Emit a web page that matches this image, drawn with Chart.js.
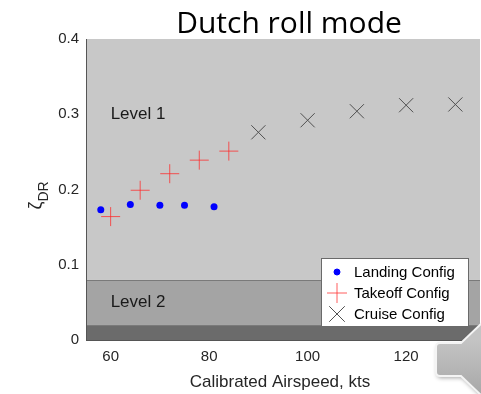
<!DOCTYPE html>
<html>
<head>
<meta charset="utf-8">
<script src="https://cdn.jsdelivr.net/npm/chart.js@4.4.1/dist/chart.umd.min.js"></script>
<style>
  body { margin: 0; background: #fff; }
  #wrap { width: 481px; height: 394px; }
</style>
</head>
<body>
<div id="wrap"><canvas id="chart" width="481" height="394"></canvas></div>
<script>
// 数据
const landingX = [58, 64, 70, 75, 81];
const landingY = [0.173, 0.180, 0.179, 0.179, 0.177];
const takeoffX = [60, 66, 72, 78, 84];
const takeoffY = [0.164, 0.199, 0.221, 0.239, 0.251];
const cruiseX = [90, 100, 110, 120, 130];
const cruiseY = [0.276, 0.292, 0.304, 0.312, 0.313];

const xTicks = [60, 80, 100, 120];
const yTicks = [0, 0.1, 0.2, 0.3, 0.4];

// 等级区域 (下界, 上界)
const bandLow = [0.08, 0.02, 0];
const bandHigh = [0.4, 0.08, 0.02];
const bandColors = ['#c8c8c8', '#a4a4a4', '#6b6b6b'];
const levelNames = ['Level 1', 'Level 2'];
const levelY = [0.3, 0.05];

const tickFont = '"Liberation Sans", Arial, sans-serif';

function pairs(xs, ys) {
    return xs.map((x, i) => ({ x: x, y: ys[i] }));
}

// 背景等级色块
const bandsPlugin = {
    id: 'bands',
    beforeDraw(chart) {
        const { ctx, chartArea: a, scales: { y } } = chart;
        ctx.save();
        bandLow.forEach((lo, i) => {
            const top = y.getPixelForValue(bandHigh[i]);
            const bot = y.getPixelForValue(lo);
            ctx.fillStyle = bandColors[i];
            ctx.fillRect(a.left, top, a.right - a.left, bot - top);
            if (i > 0) {
                ctx.strokeStyle = '#7a7a7a';
                ctx.lineWidth = 1;
                ctx.beginPath();
                ctx.moveTo(a.left, Math.round(top) + 0.5);
                ctx.lineTo(a.right, Math.round(top) + 0.5);
                ctx.stroke();
            }
        });
        ctx.restore();
    }
};

// 标题、坐标轴标题、等级文字、图例
const textPlugin = {
    id: 'texts',
    afterDraw(chart) {
        const { ctx, chartArea: a, scales: { x, y } } = chart;
        ctx.save();

        // 标题
        ctx.fillStyle = '#000';
        ctx.font = '30px "Open Sans", Lato, sans-serif';
        ctx.textAlign = 'center';
        ctx.textBaseline = 'alphabetic';
        ctx.fillText('Dutch roll mode', 289, 33);

        // 等级文字
        ctx.font = '17px ' + tickFont;
        ctx.fillStyle = '#1a1a1a';
        ctx.textAlign = 'left';
        ctx.textBaseline = 'middle';
        levelNames.forEach((t, i) => {
            ctx.fillText(t, x.getPixelForValue(60), y.getPixelForValue(levelY[i]));
        });

        // x 轴标题
        ctx.fillStyle = '#262626';
        ctx.font = '17px ' + tickFont;
        ctx.textAlign = 'center';
        ctx.fillText('Calibrated Airspeed, kts', (a.left + a.right) / 2 - 3, 382);

        // y 轴标题 ζ_DR
        ctx.save();
        ctx.translate(36, (a.top + a.bottom) / 2 + 20);
        ctx.rotate(-Math.PI / 2);
        ctx.textAlign = 'left';
        ctx.textBaseline = 'alphabetic';
        ctx.font = '18px ' + tickFont;
        ctx.fillText('ζ', 0, 5);
        const w = ctx.measureText('ζ').width;
        ctx.font = '14px ' + tickFont;
        ctx.fillText('DR', w, 12);
        ctx.restore();

        // 图例
        const lx = 321, ly = 258, lw = 147, lh = 68;
        ctx.fillStyle = '#fff';
        ctx.fillRect(lx, ly, lw, lh);
        ctx.strokeStyle = '#6a6a6a';
        ctx.lineWidth = 1;
        ctx.strokeRect(lx + 0.5, ly + 0.5, lw, lh);
        ctx.font = '15px ' + tickFont;
        ctx.textAlign = 'left';
        ctx.textBaseline = 'middle';
        chart.data.datasets.forEach((ds, i) => {
            const cy = ly + 14 + i * 21;
            ctx.save();
            ctx.strokeStyle = ds.borderColor;
            ctx.fillStyle = ds.backgroundColor;
            ctx.lineWidth = 1;
            Chart.helpers.drawPoint(ctx, {
                pointStyle: ds.pointStyle,
                radius: ds.legendRadius,
                rotation: 0,
                borderWidth: 1
            }, lx + 16, cy);
            ctx.restore();
            ctx.fillStyle = '#000';
            ctx.fillText(ds.label, lx + 33, cy + 1);
        });

        // 右下角标注形状
        ctx.save();
        ctx.shadowColor = 'rgba(0,0,0,0.35)';
        ctx.shadowBlur = 4;
        ctx.shadowOffsetX = 1;
        ctx.shadowOffsetY = 2;
        const g = ctx.createLinearGradient(0, 340, 0, 394);
        g.addColorStop(0, '#c4c4c4');
        g.addColorStop(1, '#a8a8a8');
        ctx.fillStyle = g;
        ctx.beginPath();
        ctx.moveTo(440, 343);
        ctx.lineTo(461, 343);
        ctx.lineTo(482, 323);
        ctx.lineTo(482, 396);
        ctx.lineTo(461, 376);
        ctx.lineTo(440, 376);
        ctx.quadraticCurveTo(436, 376, 436, 372);
        ctx.lineTo(436, 347);
        ctx.quadraticCurveTo(436, 343, 440, 343);
        ctx.closePath();
        ctx.fill();
        ctx.shadowColor = 'transparent';
        ctx.strokeStyle = '#f4f4f4';
        ctx.lineWidth = 2;
        ctx.stroke();
        ctx.restore();

        ctx.restore();
    }
};

new Chart(document.getElementById('chart'), {
    type: 'scatter',
    data: {
        datasets: [
            {
                label: 'Landing Config',
                data: pairs(landingX, landingY),
                pointStyle: 'circle',
                pointRadius: 3.5,
                backgroundColor: '#0000ff',
                borderColor: '#0000ff',
                borderWidth: 0,
                legendRadius: 3
            },
            {
                label: 'Takeoff Config',
                data: pairs(takeoffX, takeoffY),
                pointStyle: 'cross',
                pointRadius: 9.5,
                backgroundColor: 'rgba(255,40,40,0.75)',
                borderColor: 'rgba(255,40,40,0.75)',
                borderWidth: 1,
                legendRadius: 10
            },
            {
                label: 'Cruise Config',
                data: pairs(cruiseX, cruiseY),
                pointStyle: 'crossRot',
                pointRadius: 10,
                backgroundColor: '#505050',
                borderColor: '#505050',
                borderWidth: 1,
                legendRadius: 11
            }
        ]
    },
    options: {
        responsive: false,
        animation: false,
        layout: { autoPadding: false, padding: { top: 39, right: 1, left: 0, bottom: 0 } },
        plugins: {
            legend: { display: false },
            tooltip: { enabled: false },
            title: { display: false }
        },
        scales: {
            x: {
                type: 'linear',
                min: 55,
                max: 135,
                afterBuildTicks: s => { s.ticks = xTicks.map(v => ({ value: v })); },
                afterFit: s => { s.height = 54; s.paddingLeft = 0; s.paddingRight = 0; },
                grid: { display: false, drawTicks: false },
                border: { display: true, color: '#555', width: 1 },
                ticks: {
                    padding: 8,
                    color: '#262626',
                    font: { family: tickFont, size: 15 }
                }
            },
            y: {
                type: 'linear',
                min: 0,
                max: 0.4,
                afterBuildTicks: s => { s.ticks = yTicks.map(v => ({ value: v })); },
                afterFit: s => { s.width = 86; s.paddingTop = 0; s.paddingBottom = 0; },
                grid: { display: false, drawTicks: false },
                border: { display: true, color: '#555', width: 1 },
                ticks: {
                    padding: 7,
                    color: '#262626',
                    font: { family: tickFont, size: 15 },
                    callback: v => (v === 0 ? '0' : v.toFixed(1))
                }
            }
        }
    },
    plugins: [bandsPlugin, textPlugin]
});
</script>
</body>
</html>
